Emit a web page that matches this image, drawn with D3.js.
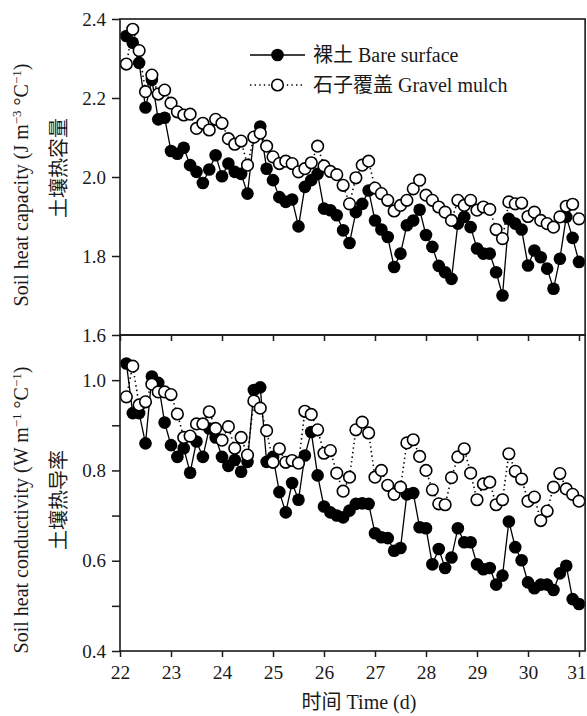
<!DOCTYPE html>
<html>
<head>
<meta charset="utf-8">
<script src="https://cdn.jsdelivr.net/npm/d3@7"></script>
<style>
  body { margin: 0; background: #fff; }
  svg { display: block; }
</style>
</head>
<body>
<svg id="chart" width="587" height="716"></svg>
<script>
// Sampling times (day of experiment), every 3 hours
const timeDays = [
  22.125, 22.25, 22.375, 22.5, 22.625, 22.75, 22.875, 23.0,
  23.125, 23.25, 23.375, 23.5, 23.625, 23.75, 23.875, 24.0,
  24.125, 24.25, 24.375, 24.5, 24.625, 24.75, 24.875, 25.0,
  25.125, 25.25, 25.375, 25.5, 25.625, 25.75, 25.875, 26.0,
  26.125, 26.25, 26.375, 26.5, 26.625, 26.75, 26.875, 27.0,
  27.125, 27.25, 27.375, 27.5, 27.625, 27.75, 27.875, 28.0,
  28.125, 28.25, 28.375, 28.5, 28.625, 28.75, 28.875, 29.0,
  29.125, 29.25, 29.375, 29.5, 29.625, 29.75, 29.875, 30.0,
  30.125, 30.25, 30.375, 30.5, 30.625, 30.75, 30.875, 31.0
];

// Soil heat capacity (J m-3 °C-1)
const capBare = [
  2.357, 2.340, 2.289, 2.176, 2.246, 2.146, 2.150, 2.066,
  2.059, 2.074, 2.030, 2.013, 1.985, 2.019, 2.055, 2.002,
  2.034, 2.013, 2.008, 1.958, 2.101, 2.128, 2.021, 1.992,
  1.949, 1.937, 1.943, 1.875, 1.975, 1.992, 2.008, 1.920,
  1.916, 1.903, 1.865, 1.833, 1.911, 1.932, 1.966, 1.890,
  1.867, 1.848, 1.772, 1.806, 1.878, 1.890, 1.917, 1.853,
  1.823, 1.775, 1.759, 1.742, 1.882, 1.899, 1.873, 1.819,
  1.806, 1.806, 1.759, 1.700, 1.894, 1.882, 1.867, 1.776,
  1.814, 1.797, 1.768, 1.717, 1.793, 1.899, 1.846, 1.785
];
const capGravel = [
  2.286, 2.374, 2.320, 2.216, 2.258, 2.210, 2.220, 2.187,
  2.165, 2.157, 2.159, 2.123, 2.136, 2.119, 2.146, 2.136,
  2.097, 2.083, 2.091, 2.030, 2.101, 2.111, 2.078, 2.051,
  2.034, 2.040, 2.034, 2.013, 2.021, 2.036, 2.078, 2.028,
  2.014, 2.006, 1.979, 1.932, 1.998, 2.030, 2.040, 1.972,
  1.958, 1.941, 1.914, 1.928, 1.941, 1.970, 1.992, 1.954,
  1.941, 1.924, 1.911, 1.890, 1.941, 1.928, 1.941, 1.916,
  1.924, 1.918, 1.867, 1.844, 1.937, 1.932, 1.934, 1.900,
  1.911, 1.890, 1.882, 1.873, 1.899, 1.926, 1.931, 1.894
];

// Soil heat conductivity (W m-1 °C-1)
const condBare = [
  1.037, 0.927, 0.927, 0.860, 1.008, 0.994, 0.906, 0.856,
  0.830, 0.849, 0.795, 0.864, 0.830, 0.893, 0.873, 0.830,
  0.810, 0.823, 0.797, 0.819, 0.978, 0.984, 0.819, 0.830,
  0.752, 0.707, 0.772, 0.735, 0.833, 0.885, 0.789, 0.720,
  0.707, 0.700, 0.696, 0.711, 0.726, 0.727, 0.726, 0.661,
  0.652, 0.650, 0.622, 0.628, 0.747, 0.750, 0.674, 0.672,
  0.592, 0.626, 0.584, 0.607, 0.672, 0.641, 0.641, 0.592,
  0.581, 0.584, 0.547, 0.567, 0.687, 0.630, 0.601, 0.552,
  0.539, 0.547, 0.547, 0.535, 0.572, 0.589, 0.515, 0.504
];
const condGravel = [
  0.963, 1.031, 0.945, 0.952, 0.991, 0.974, 0.974, 0.968,
  0.925, 0.873, 0.876, 0.903, 0.903, 0.930, 0.893, 0.867,
  0.897, 0.849, 0.873, 0.834, 0.954, 0.938, 0.888, 0.818,
  0.848, 0.818, 0.822, 0.816, 0.931, 0.924, 0.890, 0.838,
  0.844, 0.794, 0.754, 0.785, 0.890, 0.907, 0.883, 0.785,
  0.800, 0.767, 0.747, 0.763, 0.861, 0.868, 0.831, 0.800,
  0.757, 0.726, 0.724, 0.784, 0.830, 0.848, 0.794, 0.735,
  0.770, 0.774, 0.724, 0.735, 0.837, 0.798, 0.781, 0.732,
  0.741, 0.689, 0.710, 0.763, 0.793, 0.759, 0.747, 0.732
];

const dayTicks = [22, 23, 24, 25, 26, 27, 28, 29, 30, 31];
const capTicks = [1.6, 1.8, 2.0, 2.2, 2.4];
const condTicks = [0.4, 0.5, 0.6, 0.7, 0.8, 0.9, 1.0];
const condTickLabels = [0.4, 0.6, 0.8, 1.0];
const legendCn = ["裸土", "石子覆盖"];
const legendEn = ["Bare surface", "Gravel mulch"];

const SERIF = "'Liberation Serif', 'Times New Roman', serif";
const CJK = "'Noto Sans CJK SC', sans-serif";
const INK = "#1a1a1a";

const svg = d3.select("#chart");

const x = d3.scaleLinear().domain([22, 31]).range([120, 579]);
const xEnd = 31.12;
const yCap = d3.scaleLinear().domain([1.6, 2.4]).range([335, 19]);
const yCond = d3.scaleLinear().domain([0.4, 1.1]).range([651, 335]);

function drawPanel(y, yTicks, yFormat, bare, gravel, showXLabels) {
  const g = svg.append("g");
  const [y0, y1] = y.range();

  // series lines
  const pts = (vals) => timeDays.map((t, i) => [x(t), y(vals[i])]);
  const line = d3.line();
  g.append("path").attr("d", line(pts(bare)))
    .attr("fill", "none").attr("stroke", "#000").attr("stroke-width", 1.3);
  g.append("path").attr("d", line(pts(gravel)))
    .attr("fill", "none").attr("stroke", "#000").attr("stroke-width", 1.6)
    .attr("stroke-dasharray", "1.4,3.2");

  g.selectAll("circle.bare").data(bare).join("circle")
    .attr("class", "bare")
    .attr("cx", (d, i) => x(timeDays[i])).attr("cy", d => y(d))
    .attr("r", 6.3).attr("fill", "#000");
  g.selectAll("circle.gravel").data(gravel).join("circle")
    .attr("class", "gravel")
    .attr("cx", (d, i) => x(timeDays[i])).attr("cy", d => y(d))
    .attr("r", 5.8).attr("fill", "#fff").attr("stroke", "#000").attr("stroke-width", 1.6);

  // frame
  g.append("rect")
    .attr("x", x(22)).attr("y", y1)
    .attr("width", x(xEnd) - x(22)).attr("height", y0 - y1)
    .attr("fill", "none").attr("stroke", INK).attr("stroke-width", 1.6);

  // y axis
  const ya = g.append("g").attr("transform", `translate(${x(22)},0)`)
    .call(d3.axisLeft(y).tickValues(yTicks).tickSize(8).tickPadding(6).tickFormat(yFormat));
  ya.select(".domain").remove();
  ya.selectAll("line").attr("stroke", INK).attr("stroke-width", 1.5);
  ya.selectAll("text").attr("font-family", SERIF).attr("font-size", 19).attr("fill", INK);

  // x axis
  const xa = g.append("g").attr("transform", `translate(0,${y0})`)
    .call(d3.axisBottom(x).tickValues(dayTicks).tickSize(6).tickPadding(8)
      .tickFormat(showXLabels ? d3.format("d") : () => ""));
  xa.select(".domain").remove();
  xa.selectAll("line").attr("stroke", INK).attr("stroke-width", 1.5);
  xa.selectAll("text").attr("font-family", SERIF).attr("font-size", 19.5).attr("fill", INK)
    .attr("dx", d => d === 31 ? -2.5 : 0);
}

drawPanel(yCap, capTicks, d3.format(".1f"), capBare, capGravel, false);
drawPanel(yCond, condTicks, d => condTickLabels.includes(d) ? d3.format(".1f")(d) : "",
  condBare, condGravel, true);

// axis titles
function yTitle(cx, cy, parts) {
  const t = svg.append("text")
    .attr("transform", `translate(${cx},${cy}) rotate(-90)`)
    .attr("text-anchor", "middle")
    .attr("font-family", SERIF).attr("font-size", 20).attr("fill", INK);
  parts.forEach(p => {
    const s = t.append("tspan").text(p.text);
    if (p.sup) s.attr("font-size", 13).attr("dy", -7);
    if (p.down) s.attr("dy", 7);
  });
  return t;
}
yTitle(28, 185, [
  { text: "Soil heat capacity (J m" },
  { text: "−3", sup: true },
  { text: " °C", down: true },
  { text: "−1", sup: true },
  { text: ")", down: true }
]);
yTitle(28, 510, [
  { text: "Soil heat conductivity (W m" },
  { text: "−1", sup: true },
  { text: " °C", down: true },
  { text: "−1", sup: true },
  { text: ")", down: true }
]);
svg.append("text")
  .attr("transform", `translate(66,${(yCap(2.4) + yCap(1.6)) / 2 - 9}) rotate(-90)`)
  .attr("text-anchor", "middle")
  .attr("font-family", CJK).attr("font-size", 20).attr("fill", INK)
  .text("土壤热容量");
svg.append("text")
  .attr("transform", `translate(66,${(yCond(1.1) + yCond(0.4)) / 2 + 7}) rotate(-90)`)
  .attr("text-anchor", "middle")
  .attr("font-family", CJK).attr("font-size", 20).attr("fill", INK)
  .text("土壤热导率");

const xt = svg.append("text")
  .attr("x", 359).attr("y", 709)
  .attr("text-anchor", "middle")
  .attr("font-size", 20).attr("fill", INK);
xt.append("tspan").attr("font-family", CJK).text("时间");
xt.append("tspan").attr("font-family", SERIF).text(" Time (d)");

// legend
const legend = svg.append("g");
[0, 1].forEach(i => {
  const ly = 55 + i * 30;
  legend.append("line")
    .attr("x1", 250).attr("x2", 305).attr("y1", ly).attr("y2", ly)
    .attr("stroke", "#000")
    .attr("stroke-width", i === 0 ? 1.3 : 1.6)
    .attr("stroke-dasharray", i === 0 ? null : "1.4,3.2");
  legend.append("circle")
    .attr("cx", 277.5).attr("cy", ly).attr("r", i === 0 ? 6.3 : 5.8)
    .attr("fill", i === 0 ? "#000" : "#fff")
    .attr("stroke", "#000").attr("stroke-width", i === 0 ? 0 : 1.6);
  const t = legend.append("text")
    .attr("x", 313).attr("y", ly + 7)
    .attr("font-size", 20).attr("fill", INK);
  t.append("tspan").attr("font-family", CJK).text(legendCn[i]);
  t.append("tspan").attr("font-family", SERIF).text(" " + legendEn[i]);
});
</script>
</body>
</html>
